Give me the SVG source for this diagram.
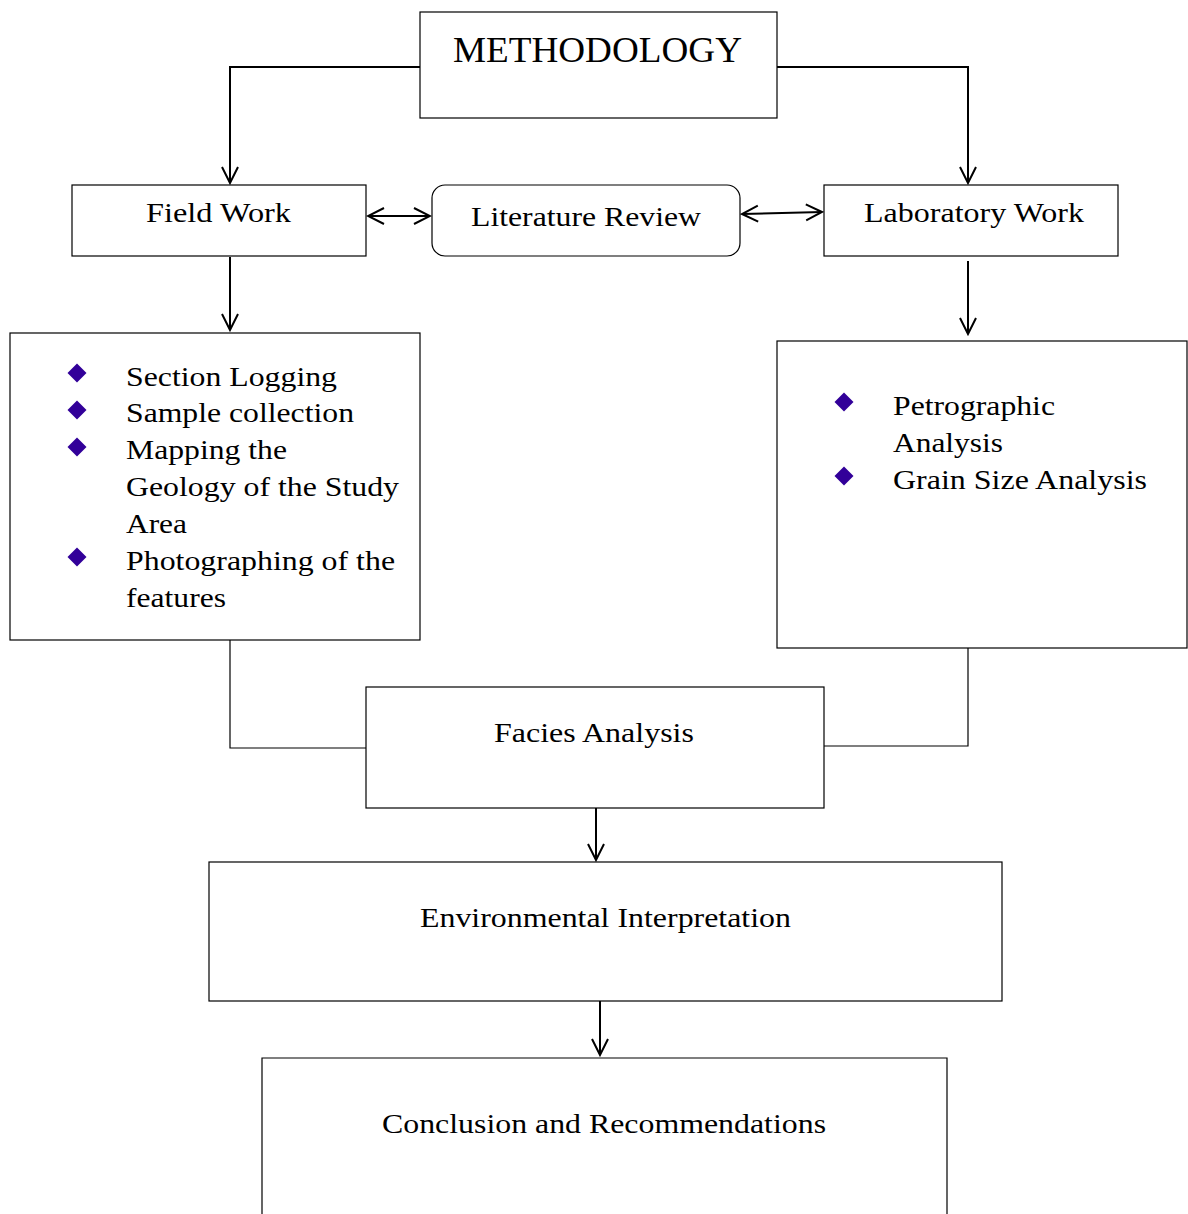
<svg xmlns="http://www.w3.org/2000/svg" width="1188" height="1214" viewBox="0 0 1188 1214">
<style>
.box{fill:#fff;stroke:#000;stroke-width:1.2}
.t{font-family:"Liberation Serif","Times New Roman",serif;font-size:28px;fill:#000}
.con{fill:none;stroke:#000;stroke-width:2}
.thin{fill:none;stroke:#000;stroke-width:1.2}
.b{fill:#330099}
</style>
<defs>
<marker id="ah" viewBox="0 0 20 20" refX="18" refY="10" markerWidth="20" markerHeight="20" markerUnits="userSpaceOnUse" orient="auto-start-reverse">
<path d="M2,2 L18,10 L2,18" fill="none" stroke="#000" stroke-width="2"/>
</marker>
<filter id="soft" x="-20%" y="-20%" width="140%" height="140%"><feGaussianBlur stdDeviation="0.7"/></filter>
<path id="dia" d="M0,-9.5 L9.5,0 L0,9.5 L-9.5,0 Z"/>
</defs>
<rect width="1188" height="1214" fill="#fff"/>
<g id="connectors">
<path class="con" d="M420,67 H230 V183" marker-end="url(#ah)"/>
<path class="con" d="M777,67 H968 V183" marker-end="url(#ah)"/>
<path class="con" d="M368,216 H430" marker-start="url(#ah)" marker-end="url(#ah)"/>
<path class="con" d="M742,214 L822,212" marker-start="url(#ah)" marker-end="url(#ah)"/>
<path class="con" d="M230,257 V330" marker-end="url(#ah)"/>
<path class="con" d="M968,261 V334" marker-end="url(#ah)"/>
<path class="thin" d="M230,640 V748 H366"/>
<path class="thin" d="M968,648 V746 H824"/>
<path class="con" d="M596,808 V860" marker-end="url(#ah)"/>
<path class="con" d="M600,1001 V1055" marker-end="url(#ah)"/>
</g>
<g id="methodology">
<rect class="box" x="420" y="12" width="357" height="106"/>
<text class="t" transform="translate(453,62) scale(1.04,1)" style="font-size:36px" textLength="277.9" lengthAdjust="spacingAndGlyphs">METHODOLOGY</text>
</g>
<g id="field-work">
<rect class="box" x="72" y="185" width="294" height="71"/>
<text class="t" transform="translate(146,222) scale(1.14,1)" textLength="127.2" lengthAdjust="spacingAndGlyphs">Field Work</text>
</g>
<g id="literature-review">
<rect class="box" x="432" y="185" width="308" height="71" rx="13"/>
<text class="t" transform="translate(471,226) scale(1.14,1)" textLength="201.8" lengthAdjust="spacingAndGlyphs">Literature Review</text>
</g>
<g id="laboratory-work">
<rect class="box" x="824" y="185" width="294" height="71"/>
<text class="t" transform="translate(864,222) scale(1.14,1)" textLength="193" lengthAdjust="spacingAndGlyphs">Laboratory Work</text>
</g>
<g id="field-list">
<rect class="box" x="10" y="333" width="410" height="307"/>
<g class="b" filter="url(#soft)">
<use href="#dia" x="77" y="373"/>
<use href="#dia" x="77" y="410"/>
<use href="#dia" x="77" y="447"/>
<use href="#dia" x="77" y="557"/>
</g>
<text class="t" transform="translate(126,386) scale(1.14,1)" textLength="185.1" lengthAdjust="spacingAndGlyphs">Section Logging</text>
<text class="t" transform="translate(126,422) scale(1.14,1)" textLength="200" lengthAdjust="spacingAndGlyphs">Sample collection</text>
<text class="t" transform="translate(126,459) scale(1.14,1)" textLength="141.2" lengthAdjust="spacingAndGlyphs">Mapping the</text>
<text class="t" transform="translate(126,496) scale(1.14,1)" textLength="239.5" lengthAdjust="spacingAndGlyphs">Geology of the Study</text>
<text class="t" transform="translate(126,533) scale(1.14,1)" textLength="53.5" lengthAdjust="spacingAndGlyphs">Area</text>
<text class="t" transform="translate(126,570) scale(1.14,1)" textLength="236" lengthAdjust="spacingAndGlyphs">Photographing of the</text>
<text class="t" transform="translate(126,607) scale(1.14,1)" textLength="87.7" lengthAdjust="spacingAndGlyphs">features</text>
</g>
<g id="lab-list">
<rect class="box" x="777" y="341" width="410" height="307"/>
<g class="b" filter="url(#soft)">
<use href="#dia" x="844" y="402"/>
<use href="#dia" x="844" y="476"/>
</g>
<text class="t" transform="translate(893,415) scale(1.14,1)" textLength="142.1" lengthAdjust="spacingAndGlyphs">Petrographic</text>
<text class="t" transform="translate(893,452) scale(1.14,1)" textLength="96.5" lengthAdjust="spacingAndGlyphs">Analysis</text>
<text class="t" transform="translate(893,489) scale(1.14,1)" textLength="222.8" lengthAdjust="spacingAndGlyphs">Grain Size Analysis</text>
</g>
<g id="facies-analysis">
<rect class="box" x="366" y="687" width="458" height="121"/>
<text class="t" transform="translate(494,742) scale(1.14,1)" textLength="175.4" lengthAdjust="spacingAndGlyphs">Facies Analysis</text>
</g>
<g id="environmental-interpretation">
<rect class="box" x="209" y="862" width="793" height="139"/>
<text class="t" transform="translate(420,927) scale(1.14,1)" textLength="325.4" lengthAdjust="spacingAndGlyphs">Environmental Interpretation</text>
</g>
<g id="conclusion">
<path class="box" d="M262,1216 V1058 H947 V1216"/>
<text class="t" transform="translate(382,1133) scale(1.14,1)" textLength="389.5" lengthAdjust="spacingAndGlyphs">Conclusion and Recommendations</text>
</g>
</svg>
